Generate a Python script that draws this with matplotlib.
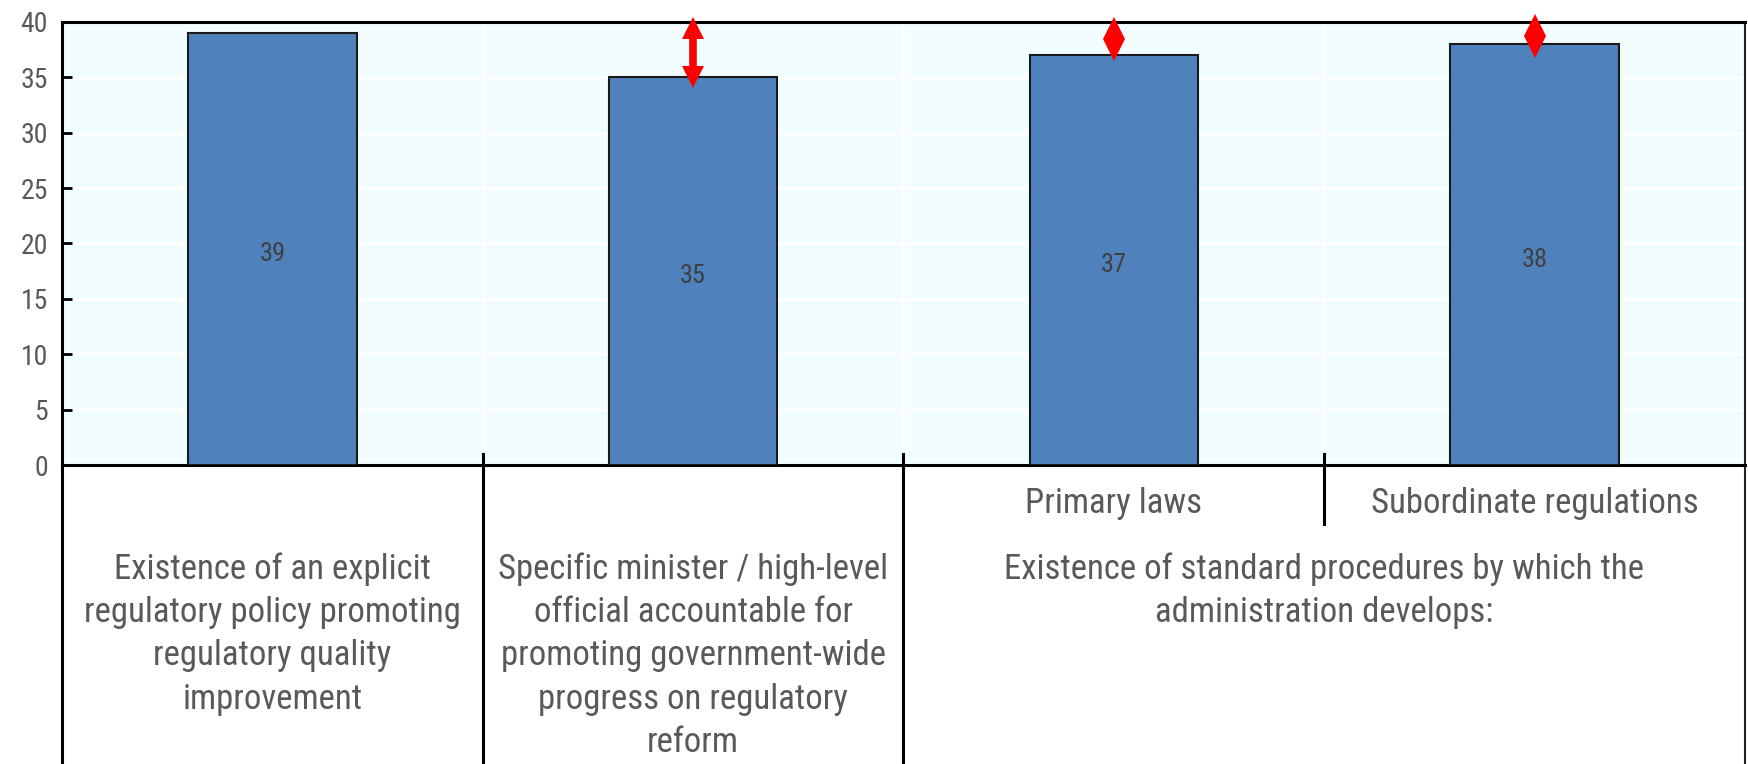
import numpy as np
import matplotlib
matplotlib.use("Agg")
import matplotlib.pyplot as plt
from matplotlib.transforms import blended_transform_factory, ScaledTranslation
from matplotlib.font_manager import FontProperties

# Data
categories = [
    "Existence of an explicit\nregulatory policy promoting\nregulatory quality\nimprovement",
    "Specific minister / high-level\nofficial accountable for\npromoting government-wide\nprogress on regulatory\nreform",
    "Primary laws",
    "Subordinate regulations",
]
group_label = "Existence of standard procedures by which the\nadministration develops:"
values = [39, 35, 37, 38]
range_high = [np.nan, 39.5, 39.5, 39.7]
range_low = [np.nan, 35.0, 37.5, 37.7]
y_ticks = [0, 5, 10, 15, 20, 25, 30, 35, 40]

FAMILY = ["Roboto Condensed", "Noto Sans", "Liberation Sans"]
GREY = "#595959"


def fp(size):
    return FontProperties(family=FAMILY, stretch="condensed", size=size)


fig = plt.figure(figsize=(17.48, 7.64), dpi=100)
ax = fig.add_axes([62 / 1748, 1 - 465 / 764, (1745 - 62) / 1748, (465 - 22) / 764])
ax.set_facecolor("#F2FDFF")

x = np.arange(len(values))
ax.bar(x, values, width=0.4, color="#4F81BD", edgecolor="#1a1a1a", linewidth=1.5, zorder=3)
label_shift = ax.transData + ScaledTranslation(0, -5 / 100, fig.dpi_scale_trans)
for xi, v in zip(x, values):
    ax.text(xi, v / 2, f"{v}", ha="center", va="center", fontproperties=fp(19),
            color="#404040", zorder=4, transform=label_shift)

# Range markers: line plus triangles at both ends
for xi, hi, lo in zip(x, range_high, range_low):
    if np.isnan(hi):
        continue
    ax.plot([xi, xi], [lo, hi], color="#FF0000", lw=5.5, solid_capstyle="butt",
            zorder=5, clip_on=False)
    ax.plot([xi], [hi], marker="^", color="#FF0000", markersize=16.5, ls="none",
            markeredgewidth=0, zorder=6, clip_on=False)
    ax.plot([xi], [lo], marker="v", color="#FF0000", markersize=16.5, ls="none",
            markeredgewidth=0, zorder=6, clip_on=False)

ax.set_xlim(-0.5, len(values) - 0.5)
ax.set_ylim(0, 40)
ax.set_yticks(y_ticks)
ax.set_yticklabels([str(t) for t in y_ticks], fontproperties=fp(20), color=GREY)
ax.tick_params(axis="y", direction="in", length=7, width=2, color="black", pad=10)
ax.set_xticks([])

# Gridlines
for t in y_ticks[1:-1]:
    ax.axhline(t, color="white", lw=2, zorder=1)
for b in [0.5, 1.5, 2.5]:
    ax.axvline(b, color="white", lw=2, zorder=1)

for side in ["left", "top", "bottom"]:
    ax.spines[side].set_linewidth(2.2)
    ax.spines[side].set_color("black")
ax.spines["right"].set_linewidth(1.5)
ax.spines["right"].set_color("#222222")

# Category table below the plot
trans = blended_transform_factory(ax.transData, ax.transAxes)
ax_h_px = 465 - 22


def ay(px):
    return (465 - px) / ax_h_px


fig_bottom = ay(764)
ax.plot([-0.5, -0.5], [0, fig_bottom], transform=trans, color="black", lw=2.2, clip_on=False)
ax.plot([3.5, 3.5], [0, fig_bottom], transform=trans, color="#222222", lw=1.5, clip_on=False)
for b in [0.5, 1.5]:
    ax.plot([b, b], [ay(454), fig_bottom], transform=trans, color="black", lw=2.2, clip_on=False)
ax.plot([2.5, 2.5], [ay(454), ay(524)], transform=trans, color="black", lw=2.2, clip_on=False)

label_top = ay(552)
for i in (0, 1):
    ax.text(x[i], label_top, categories[i], transform=trans, ha="center", va="top",
            fontproperties=fp(25), color=GREY, linespacing=1.4)
for i in (2, 3):
    ax.text(x[i], ay(503), categories[i], transform=trans, ha="center", va="center",
            fontproperties=fp(25), color=GREY)
ax.text(2.5, label_top, group_label, transform=trans, ha="center", va="top",
        fontproperties=fp(25), color=GREY, linespacing=1.4)

fig.savefig("out.png", dpi=100)
